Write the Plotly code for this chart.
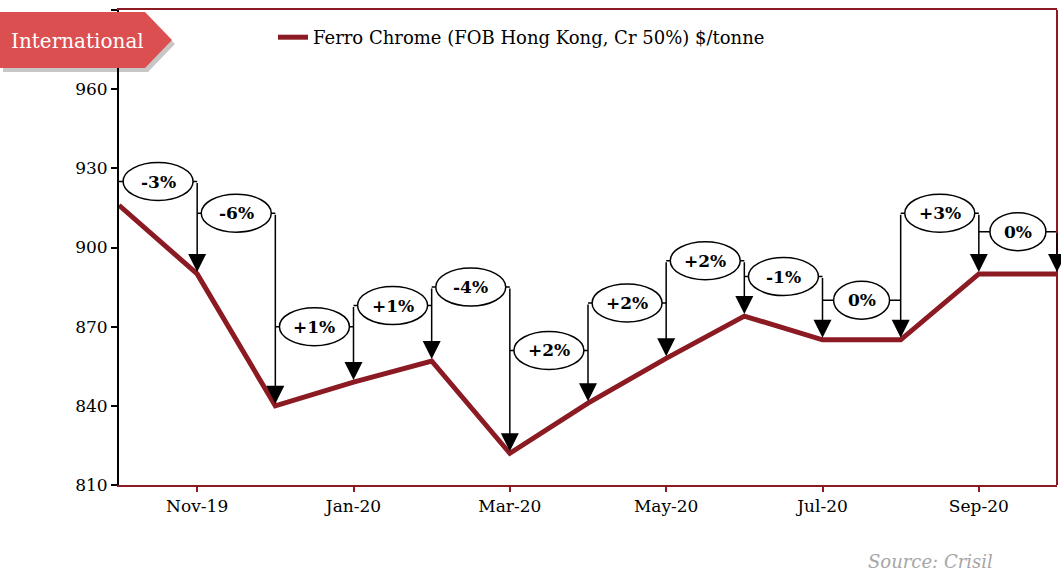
import plotly.graph_objects as go

# ---- data ----
months = ["Oct-19", "Nov-19", "Dec-19", "Jan-20", "Feb-20", "Mar-20", "Apr-20",
          "May-20", "Jun-20", "Jul-20", "Aug-20", "Sep-20", "Oct-20"]
prices = [916, 890, 840, 849, 857, 822, 841, 858, 874, 865, 865, 890, 890]
pct_labels = ["-3%", "-6%", "+1%", "+1%", "-4%", "+2%", "+2%", "+2%", "-1%", "0%", "+3%", "0%"]
# vertical placement (in $/tonne) of each month-on-month callout
callout_levels = [925, 913, 870, 878, 885, 861, 879, 895, 889, 880, 913, 906]
series_name = "Ferro Chrome (FOB Hong Kong, Cr 50%) $/tonne"
y_ticks = [810, 840, 870, 900, 930, 960, 990]

LINE = "#8b1a22"
FONT = "DejaVu Serif"

x_idx = list(range(len(months)))
tick_idx = x_idx[1::2]
tick_txt = months[1::2]

fig = go.Figure()
fig.add_trace(go.Scatter(x=x_idx, y=prices, mode="lines", name=series_name,
                         line=dict(color=LINE, width=5), showlegend=True,
                         hoverinfo="x+y"))

shapes = []
annotations = []

# horizontal connectors, ellipses, labels
for k, lab in enumerate(pct_labels):
    lvl = callout_levels[k]
    shapes.append(dict(type="line", xref="x", yref="y", x0=k, x1=k + 1, y0=lvl, y1=lvl,
                       line=dict(color="black", width=1.5)))
    w = 56 if lab == "0%" else 70
    shapes.append(dict(type="circle", xref="x", yref="y", xsizemode="pixel", ysizemode="pixel",
                       xanchor=k + 0.5, yanchor=lvl, x0=-w / 2, x1=w / 2, y0=-19, y1=19,
                       fillcolor="white", line=dict(color="black", width=1.5)))
    annotations.append(dict(x=k + 0.5, y=lvl, xref="x", yref="y", text="<b>%s</b>" % lab,
                            xanchor="center", yanchor="middle",
                            showarrow=False, font=dict(family=FONT, size=17, color="black")))

# vertical arrows down to each month's price
for i in range(1, len(months)):
    levels = [callout_levels[i - 1]]
    if i < len(callout_levels):
        levels.append(callout_levels[i])
    top = max(levels)
    annotations.append(dict(x=i, y=prices[i], ax=i, ay=top, xref="x", yref="y",
                            axref="x", ayref="y", text="", showarrow=True,
                            arrowhead=2, arrowsize=2.4, arrowwidth=1.5,
                            arrowcolor="black", standoff=2))

# right border of plot
shapes.append(dict(type="line", xref="paper", yref="paper", x0=1, x1=1, y0=0, y1=1,
                   line=dict(color=LINE, width=2)))

# plot-area pixel box in the window
PL, PR, PT, PB = 119, 1057, 10, 485
W, H = 1061, 571

def px(x):
    return (x - PL) / (PR - PL)

def py(y):
    return (PB - y) / (PB - PT)

def tag_path(dx=0, dy=0):
    pts = [(0, 12), (145, 12), (172, 40), (145, 68), (0, 68)]
    return "M " + " L ".join("%f,%f" % (px(a + dx), py(b + dy)) for a, b in pts) + " Z"

shapes.append(dict(type="path", xref="paper", yref="paper", path=tag_path(3, 4),
                   fillcolor="rgba(0,0,0,0.22)", line=dict(width=0), layer="above"))
shapes.append(dict(type="path", xref="paper", yref="paper", path=tag_path(),
                   fillcolor="#dc4f50", line=dict(width=0), layer="above"))
annotations.append(dict(x=px(77), y=py(41), xref="paper", yref="paper", text="International",
                        xanchor="center", yanchor="middle",
                        showarrow=False, font=dict(family=FONT, size=20, color="white")))

annotations.append(dict(x=px(995), y=py(561), xref="paper", yref="paper",
                        text="<i>Source: Crisil</i>", xanchor="right", yanchor="middle",
                        showarrow=False, font=dict(family=FONT, size=18, color="#a6a6a6")))

fig.update_layout(
    width=W, height=H,
    margin=dict(l=PL, r=W - PR, t=PT, b=H - PB, pad=0),
    paper_bgcolor="white", plot_bgcolor="white",
    font=dict(family=FONT, size=16, color="black"),
    shapes=shapes, annotations=annotations,
    legend=dict(orientation="h", x=px(273), y=py(19), xanchor="left", yanchor="top",
                font=dict(family=FONT, size=18, color="black"), bgcolor="rgba(0,0,0,0)"),
    xaxis=dict(range=[0, 12], tickvals=tick_idx, ticktext=tick_txt, showgrid=False,
               zeroline=False, showline=True, linecolor=LINE, linewidth=2, mirror=True,
               ticks="outside", tickcolor=LINE, ticklen=5, tickwidth=2,
               tickfont=dict(family=FONT, size=17, color="black")),
    yaxis=dict(range=[810, 990], tickvals=y_ticks, showgrid=False, zeroline=False,
               showline=True, linecolor="black", linewidth=2, ticks="outside",
               tickcolor="black", ticklen=6, tickwidth=2,
               tickfont=dict(family=FONT, size=17, color="black")),
)

fig.write_html("out.html", config={"displayModeBar": False},
               post_script="document.body.style.margin='0';")
